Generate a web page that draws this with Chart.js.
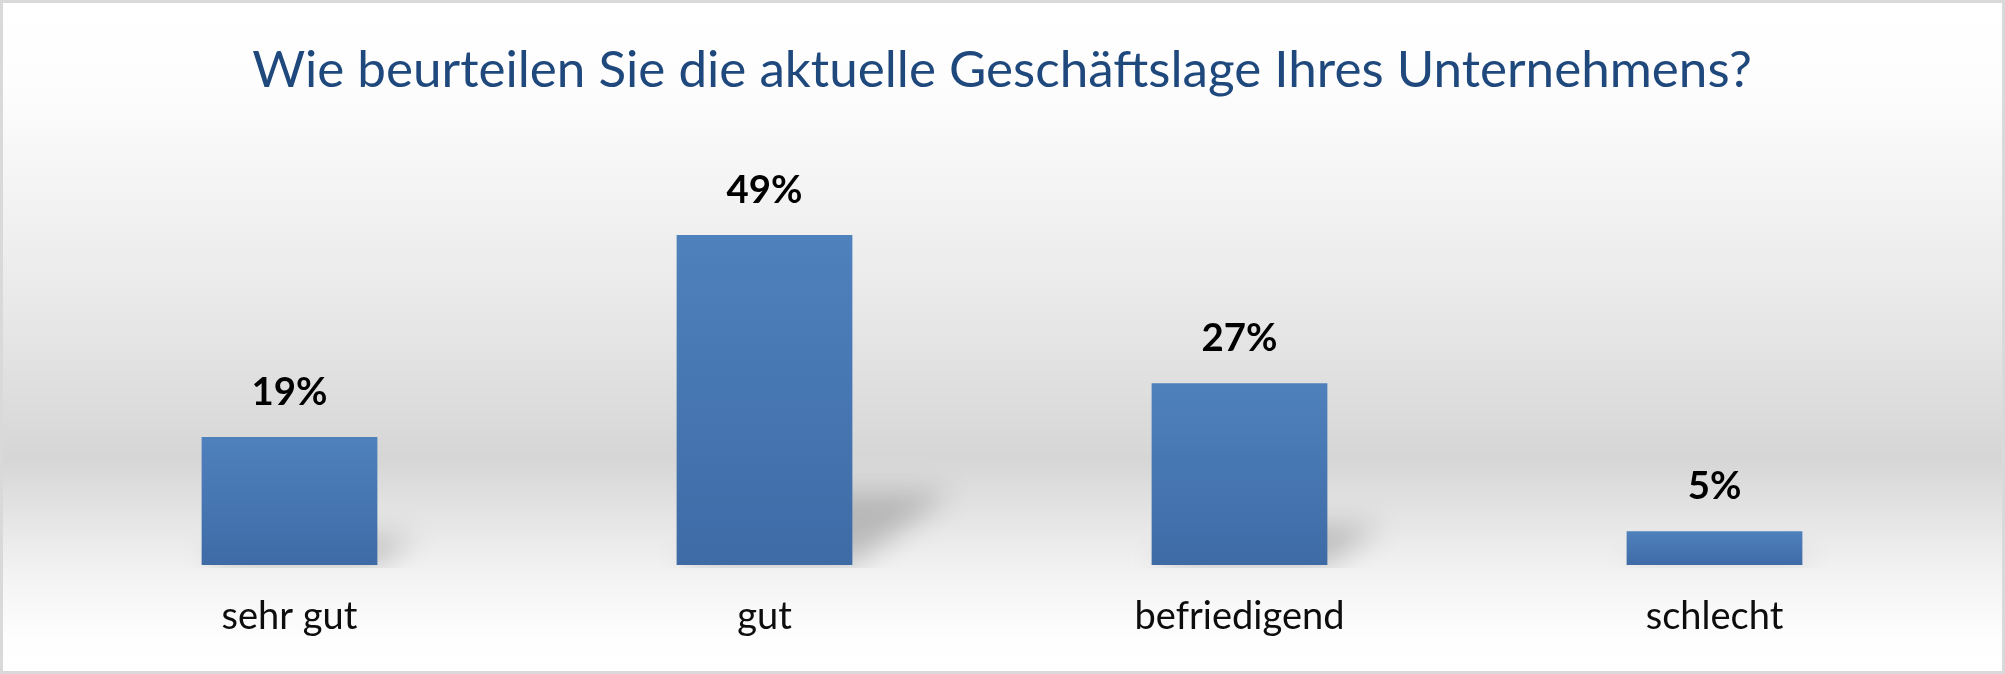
<!DOCTYPE html>
<html lang="de">
<head>
<meta charset="utf-8">
<title>Geschäftslage</title>
<script src="https://cdn.jsdelivr.net/npm/chart.js@4.4.1/dist/chart.umd.min.js"></script>
<style>
  html, body { margin: 0; padding: 0; background: #ffffff; }
  canvas { display: block; }
</style>
</head>
<body>
<canvas id="lageChart" width="2005" height="674"></canvas>
<script>
const chartTitle = "Wie beurteilen Sie die aktuelle Geschäftslage Ihres Unternehmens?";
const categories = ["sehr gut", "gut", "befriedigend", "schlecht"];
const shares = [19, 49, 27, 5];

const FONT = "Lato, 'Open Sans', sans-serif";

// fit a font size so that the text gets the width seen in the picture
function fitSize(text, weight, targetWidth) {
  const c = document.createElement("canvas").getContext("2d");
  c.font = weight + " 100px " + FONT;
  return (100 * targetWidth) / c.measureText(text).width;
}

const backgroundPlugin = {
  id: "background",
  beforeDraw(chart) {
    const { ctx, width, height } = chart;
    const g = ctx.createLinearGradient(0, 0, 0, height);
    g.addColorStop(0, "#ffffff");
    g.addColorStop(0.13, "#fdfdfd");
    g.addColorStop(0.45, "#e9e9e9");
    g.addColorStop(0.68, "#d6d6d6");
    g.addColorStop(0.84, "#f1f1f1");
    g.addColorStop(0.95, "#fefefe");
    g.addColorStop(1, "#ffffff");
    ctx.save();
    ctx.fillStyle = g;
    ctx.fillRect(0, 0, width, height);
    ctx.restore();
  },
  afterDraw(chart) {
    const { ctx, width, height } = chart;
    ctx.save();
    ctx.strokeStyle = "#d9d9d9";
    ctx.lineWidth = 3;
    ctx.strokeRect(1.5, 1.5, width - 3, height - 3);
    ctx.restore();
  },
};

// soft perspective shadow falling to the upper right of each bar
const shadowPlugin = {
  id: "barShadow",
  beforeDatasetsDraw(chart) {
    const { ctx } = chart;
    const meta = chart.getDatasetMeta(0);
    ctx.save();
    ctx.beginPath();
    ctx.rect(0, 0, chart.width, chart.chartArea.bottom + 3);
    ctx.clip();
    ctx.filter = "blur(14px)";
    ctx.fillStyle = "rgba(0, 0, 0, 0.2)";
    meta.data.forEach(function (bar) {
      const h = bar.base - bar.y;
      const left = bar.x - bar.width / 2;
      const right = bar.x + bar.width / 2;
      const dx = h * 0.3;
      const dy = h * 0.22;
      ctx.beginPath();
      ctx.moveTo(left, bar.base);
      ctx.lineTo(right, bar.base);
      ctx.lineTo(right + dx, bar.base - dy);
      ctx.lineTo(left + dx, bar.base - dy);
      ctx.closePath();
      ctx.fill();
    });
    ctx.restore();
  },
};

const valueLabelPlugin = {
  id: "valueLabels",
  afterDatasetsDraw(chart) {
    const { ctx } = chart;
    const meta = chart.getDatasetMeta(0);
    const size = chart.options.valueFontSize;
    ctx.save();
    ctx.font = "bold " + size + "px " + FONT;
    ctx.fillStyle = "#000000";
    ctx.textAlign = "center";
    ctx.textBaseline = "alphabetic";
    meta.data.forEach(function (bar, i) {
      ctx.fillText(shares[i] + "%", bar.x, bar.y - 32);
    });
    ctx.restore();
  },
};

function buildChart() {
  const titleSize = fitSize(chartTitle, "normal", 1500);
  const tickSize = fitSize("befriedigend", "normal", 210);
  const valueSize = fitSize("19%", "bold", 76);

  const titleLine = titleSize * 1.2;
  const tickLine = tickSize * 1.2;
  const plotTop = 161;
  const plotBottom = 565;
  const titleCenter = 70;
  const tickCenter = 617;
  const tickPadding = tickCenter - plotBottom - tickLine / 2;
  const bottomPadding = 674 - plotBottom - tickLine - 2 * tickPadding;

  const ctx = document.getElementById("lageChart").getContext("2d");
  new Chart(ctx, {
    type: "bar",
    data: {
      labels: categories,
      datasets: [
        {
          data: shares,
          backgroundColor: function (context) {
            const chart = context.chart;
            if (!chart.chartArea || context.type !== "data") {
              return "#4a7bb7";
            }
            const y = chart.scales.y;
            const top = y.getPixelForValue(context.raw);
            const bottom = y.getPixelForValue(0);
            const g = chart.ctx.createLinearGradient(0, top, 0, bottom);
            g.addColorStop(0, "#4f81bd");
            g.addColorStop(1, "#3e6ba6");
            return g;
          },
          borderWidth: 0,
          barPercentage: 0.37,
          categoryPercentage: 1,
        },
      ],
    },
    options: {
      responsive: false,
      animation: false,
      devicePixelRatio: 1,
      valueFontSize: valueSize,
      layout: {
        padding: { top: 0, left: 52, right: 53, bottom: bottomPadding },
      },
      plugins: {
        legend: { display: false },
        tooltip: { enabled: false },
        title: {
          display: true,
          text: chartTitle,
          color: "#1f497d",
          font: { family: FONT, size: titleSize, weight: "normal", lineHeight: 1.2 },
          padding: {
            top: titleCenter - titleLine / 2,
            bottom: plotTop - titleCenter - titleLine / 2,
          },
        },
      },
      scales: {
        x: {
          grid: { display: false, drawTicks: false },
          border: { display: false },
          ticks: {
            color: "#0d0d0d",
            padding: tickPadding,
            font: { family: FONT, size: tickSize, lineHeight: 1.2 },
          },
        },
        y: {
          display: false,
          min: 0,
          max: 60,
        },
      },
    },
    plugins: [backgroundPlugin, shadowPlugin, valueLabelPlugin],
  });
}

document.addEventListener("DOMContentLoaded", function () {
  document.fonts.load("40px Lato").then(buildChart, buildChart);
});
</script>
</body>
</html>
